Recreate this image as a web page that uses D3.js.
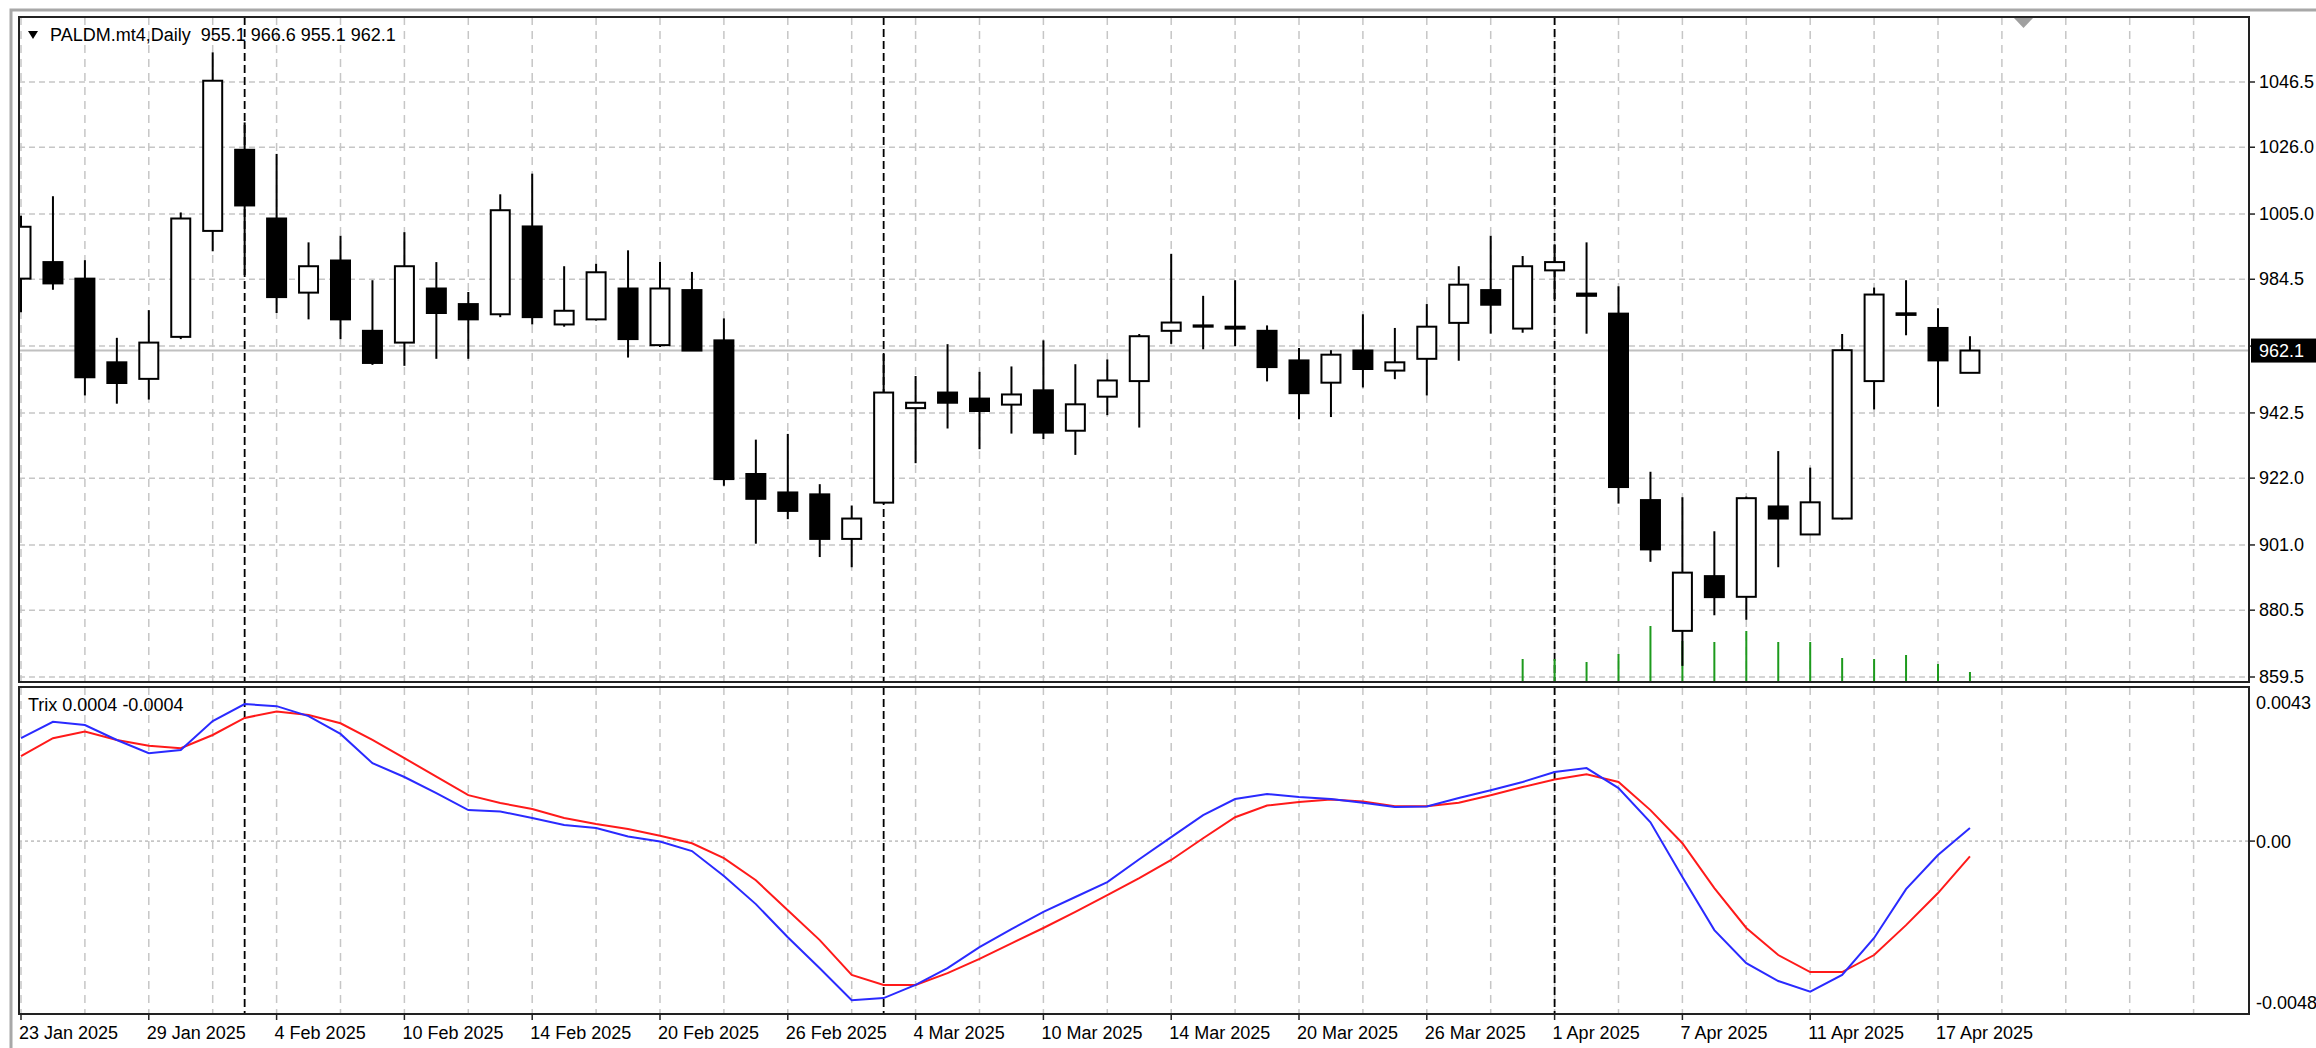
<!DOCTYPE html>
<html><head><meta charset="utf-8">
<script src="https://cdn.jsdelivr.net/npm/d3@7"></script>
<style>
html,body{margin:0;padding:0;background:#fff;overflow:hidden}
text{font-family:"Liberation Sans",Arial,sans-serif;font-size:18px;}
</style></head><body>
<svg id="c" width="2316" height="1048"></svg>
<script>
// ---------- DATA ----------
const symbol = "PALDM.mt4";
const timeframe = "Daily";
const dates = ["23 Jan 2025","24 Jan 2025","27 Jan 2025","28 Jan 2025","29 Jan 2025","30 Jan 2025","31 Jan 2025",
"3 Feb 2025","4 Feb 2025","5 Feb 2025","6 Feb 2025","7 Feb 2025","10 Feb 2025","11 Feb 2025","12 Feb 2025","13 Feb 2025","14 Feb 2025",
"17 Feb 2025","18 Feb 2025","19 Feb 2025","20 Feb 2025","21 Feb 2025","24 Feb 2025","25 Feb 2025","26 Feb 2025","27 Feb 2025","28 Feb 2025",
"3 Mar 2025","4 Mar 2025","5 Mar 2025","6 Mar 2025","7 Mar 2025","10 Mar 2025","11 Mar 2025","12 Mar 2025","13 Mar 2025","14 Mar 2025",
"17 Mar 2025","18 Mar 2025","19 Mar 2025","20 Mar 2025","21 Mar 2025","24 Mar 2025","25 Mar 2025","26 Mar 2025","27 Mar 2025","28 Mar 2025","31 Mar 2025",
"1 Apr 2025","2 Apr 2025","3 Apr 2025","4 Apr 2025","7 Apr 2025","8 Apr 2025","9 Apr 2025","10 Apr 2025","11 Apr 2025",
"14 Apr 2025","15 Apr 2025","16 Apr 2025","17 Apr 2025","18 Apr 2025"];

const open  = [984.7,989.9,984.7,958.4,953.2,966.4,999.7,1025.2,1003.6,980.3,990.4,968.3,964.6,981.6,976.7,973.5,1001.1,970.3,971.9,981.6,963.8,981.1,965.3,923.3,917.5,916.9,902.9,914.3,944.0,948.9,947.0,945.1,949.6,936.9,947.6,952.5,968.3,970.0,969.6,968.3,959.0,952.0,962.1,955.8,959.5,970.8,981.1,969.0,987.3,980.0,973.7,915.1,874.0,891.2,884.7,913.1,904.3,909.3,952.5,973.8,969.2,955.1];
const high  = [1004.5,1010.6,990.5,966.1,974.8,1005.5,1055.8,1033.8,1023.9,996.1,998.2,984.2,999.3,989.9,980.5,1011.2,1017.7,988.6,989.4,993.6,989.9,986.8,972.2,934.1,935.9,920.1,913.4,961.0,954.1,964.1,955.4,957.1,965.3,957.8,959.3,967.3,992.5,979.3,984.2,970.0,962.9,962.2,973.5,969.2,976.7,988.6,998.2,991.8,995.5,996.1,982.3,924.0,916.0,905.3,916.2,930.5,925.3,967.3,981.9,984.2,975.4,966.6];
const low   = [974.1,981.2,948.0,945.4,946.7,965.7,993.3,985.8,973.9,971.9,965.7,957.6,957.3,959.5,959.5,972.6,970.3,969.6,971.5,959.9,963.2,962.0,919.6,901.4,909.1,897.2,894.0,914.0,926.7,937.6,931.1,936.0,934.3,929.3,941.8,937.9,964.2,962.5,963.5,952.4,940.5,941.2,950.5,953.1,948.0,958.9,967.4,967.7,978.3,967.4,914.0,895.7,863.0,878.9,877.5,894.0,904.3,909.0,943.6,966.9,944.4,955.1];
const close = [1001.0,983.2,953.7,951.9,964.6,1003.6,1046.9,1007.7,978.9,988.6,971.9,958.2,988.6,973.9,971.9,1006.2,972.6,974.6,986.7,965.7,981.6,962.1,921.7,915.5,911.7,902.9,909.3,948.9,945.7,945.7,943.1,948.3,936.3,945.2,952.7,966.6,970.9,969.6,969.0,956.9,948.7,960.8,956.3,958.4,969.6,982.8,976.5,988.6,989.9,979.3,919.2,899.6,892.3,884.6,915.7,909.3,914.4,962.2,979.7,973.3,959.0,962.1];
const volume = [0,0,0,0,0,0,0,0,0,0,0,0,0,0,0,0,0,0,0,0,0,0,0,0,0,0,0,0,0,0,0,0,0,0,0,0,0,0,0,0,0,0,0,0,0,0,0,
  220,220,190,270,550,400,390,500,390,390,230,220,260,170,90];

const trix = [0.00289,0.00335,0.00326,0.00284,0.00247,0.00256,0.00337,0.00385,0.00379,0.00351,0.00301,0.00219,0.00180,0.00135,0.00087,0.00083,0.00065,0.00045,0.00037,0.00013,-0.00001,-0.00028,-0.00098,-0.00177,-0.00270,-0.00357,-0.00447,-0.00441,-0.00404,-0.00357,-0.00298,-0.00247,-0.00199,-0.00157,-0.00115,-0.00051,0.00011,0.00073,0.00118,0.00132,0.00124,0.00118,0.00108,0.00096,0.00097,0.00121,0.00143,0.00166,0.00194,0.00205,0.00149,0.00053,-0.00101,-0.00250,-0.00343,-0.00393,-0.00423,-0.00376,-0.00272,-0.00135,-0.00039,0.00037];
const trixSignal = [0.00239,0.00289,0.00308,0.00284,0.00268,0.00261,0.00298,0.00346,0.00364,0.00354,0.00331,0.00284,0.00233,0.00181,0.00129,0.00107,0.00090,0.00065,0.00048,0.00034,0.00015,-0.00006,-0.00048,-0.00110,-0.00194,-0.00278,-0.00376,-0.00404,-0.00404,-0.00371,-0.00331,-0.00287,-0.00244,-0.00199,-0.00152,-0.00104,-0.00053,0.00008,0.00067,0.00100,0.00110,0.00117,0.00111,0.00098,0.00098,0.00108,0.00129,0.00152,0.00173,0.00188,0.00166,0.00087,-0.00006,-0.00132,-0.00244,-0.00320,-0.00368,-0.00368,-0.00320,-0.00236,-0.00146,-0.00043];

const priceTicks = [1046.5,1026.0,1005.0,984.5,963.5,942.5,922.0,901.0,880.5,859.5];
const trixTicks = [0.0043,0.0,-0.0048];
const trixTickLabels = ["0.0043","0.00","-0.0048"];

// ---------- LAYOUT ----------
const L = 19, R = 2249, mTop = 17, mBot = 682, sTop = 687, sBot = 1014;
const n = dates.length;
const x  = d3.scaleLinear().domain([0, n-1]).range([21, 21 + (n-1)*31.95]);
const y  = d3.scaleLinear().domain([859.5, 1046.5]).range([677, 82]);
const yv = d3.scaleLinear().domain([0, 550]).range([681, 626]);
const yt = d3.scaleLinear().domain([-0.0048, 0.0043]).range([1012, 688]);

const svg = d3.select("#c");
const defs = svg.append("defs");
defs.append("clipPath").attr("id","clipM").append("rect").attr("x",L).attr("y",mTop).attr("width",R-L).attr("height",mBot-mTop);
defs.append("clipPath").attr("id","clipS").append("rect").attr("x",L).attr("y",sTop).attr("width",R-L).attr("height",sBot-sTop);

const gridColor = "#c6c6c6";
const gridIdx = d3.range(0, 80, 2).filter(i => x(i) < R - 2);
const monthIdx = d3.range(1, n).filter(i => dates[i].split(" ")[1] !== dates[i-1].split(" ")[1]);
const labelIdx = d3.range(0, n, 4);

// outer frame
svg.append("rect").attr("x",11).attr("y",10).attr("width",2400).attr("height",1100)
  .attr("fill","none").attr("stroke","#a8a8a8").attr("stroke-width",3);

// ---------- MAIN PANEL ----------
const gm = svg.append("g").attr("clip-path","url(#clipM)");
gm.selectAll(".hg").data(priceTicks).join("line")
  .attr("x1",L).attr("x2",R).attr("y1",d=>y(d)).attr("y2",d=>y(d))
  .attr("stroke",gridColor).attr("stroke-width",1.5).attr("stroke-dasharray","6,4");
gm.selectAll(".vg").data(gridIdx).join("line")
  .attr("x1",d=>x(d)).attr("x2",d=>x(d)).attr("y1",mTop).attr("y2",mBot)
  .attr("stroke",gridColor).attr("stroke-width",1.5).attr("stroke-dasharray","8,6");
gm.selectAll(".ms").data(monthIdx).join("line")
  .attr("x1",d=>x(d)).attr("x2",d=>x(d)).attr("y1",mTop).attr("y2",mBot)
  .attr("stroke","#000").attr("stroke-width",1.8).attr("stroke-dasharray","8,4");
// price line
const last = n-1;
gm.append("line").attr("x1",L).attr("x2",R).attr("y1",y(close[last])).attr("y2",y(close[last]))
  .attr("stroke","#c0c0c0").attr("stroke-width",2);
// volumes
gm.selectAll(".vol").data(d3.range(n).filter(i=>volume[i]>0)).join("line")
  .attr("x1",i=>x(i)).attr("x2",i=>x(i)).attr("y1",yv(0)).attr("y2",i=>yv(volume[i]))
  .attr("stroke","#1d9a1d").attr("stroke-width",2);
// candles
const cg = gm.selectAll(".cd").data(d3.range(n)).join("g");
cg.append("line").attr("x1",i=>x(i)).attr("x2",i=>x(i))
  .attr("y1",i=>y(high[i])).attr("y2",i=>y(low[i])).attr("stroke","#000").attr("stroke-width",2);
cg.append("rect").attr("x",i=>x(i)-9.5).attr("width",19)
  .attr("y",i=>y(Math.max(open[i],close[i])))
  .attr("height",i=>Math.max(1, y(Math.min(open[i],close[i])) - y(Math.max(open[i],close[i]))))
  .attr("fill",i=>close[i]>=open[i] ? "#fff" : "#000")
  .attr("stroke","#000").attr("stroke-width",2);

// title
svg.append("path").attr("d","M28,31 L38,31 L33,39 Z").attr("fill","#000");
svg.append("text").attr("x",50).attr("y",35).attr("dominant-baseline","central").attr("fill","#000")
  .attr("xml:space","preserve")
  .text(`${symbol},${timeframe}  ${open[last].toFixed(1)} ${high[last].toFixed(1)} ${low[last].toFixed(1)} ${close[last].toFixed(1)}`);
// chart shift marker
svg.append("path").attr("d","M2014,18 L2033,18 L2023.5,28 Z").attr("fill","#a0a0a0");

// border
svg.append("rect").attr("x",L).attr("y",mTop).attr("width",R-L).attr("height",mBot-mTop)
  .attr("fill","none").attr("stroke","#222").attr("stroke-width",2);

// price axis
svg.selectAll(".pt").data(priceTicks).join("line")
  .attr("x1",R).attr("x2",R+6).attr("y1",d=>y(d)).attr("y2",d=>y(d)).attr("stroke","#222").attr("stroke-width",1.5);
svg.selectAll(".pl").data(priceTicks).join("text")
  .attr("x",2259).attr("y",d=>y(d)).attr("dominant-baseline","central").attr("fill","#000")
  .text(d=>d.toFixed(1));
svg.append("rect").attr("x",2251).attr("y",y(close[last])-12).attr("width",70).attr("height",24).attr("fill","#000");
svg.append("text").attr("x",2259).attr("y",y(close[last])).attr("dominant-baseline","central").attr("fill","#fff")
  .text(close[last].toFixed(1));

// ---------- TRIX PANEL ----------
const gs = svg.append("g").attr("clip-path","url(#clipS)");
gs.selectAll(".vg2").data(gridIdx).join("line")
  .attr("x1",d=>x(d)).attr("x2",d=>x(d)).attr("y1",sTop).attr("y2",sBot)
  .attr("stroke",gridColor).attr("stroke-width",1.5).attr("stroke-dasharray","8,6");
gs.append("line").attr("x1",L).attr("x2",R).attr("y1",yt(0)).attr("y2",yt(0))
  .attr("stroke",gridColor).attr("stroke-width",1.8).attr("stroke-dasharray","3,3");
gs.selectAll(".ms2").data(monthIdx).join("line")
  .attr("x1",d=>x(d)).attr("x2",d=>x(d)).attr("y1",sTop).attr("y2",sBot)
  .attr("stroke","#000").attr("stroke-width",1.8).attr("stroke-dasharray","8,4");
const lineGen = arr => d3.line().x((d,i)=>x(i)).y(d=>yt(d))(arr);
gs.append("path").attr("d",lineGen(trixSignal)).attr("fill","none").attr("stroke","#ff1a1a").attr("stroke-width",2);
gs.append("path").attr("d",lineGen(trix)).attr("fill","none").attr("stroke","#2a2aff").attr("stroke-width",2);

svg.append("text").attr("x",28).attr("y",705).attr("dominant-baseline","central").attr("fill","#000")
  .text(`Trix ${trix[last].toFixed(4)} ${trixSignal[last].toFixed(4)}`);

svg.append("rect").attr("x",L).attr("y",sTop).attr("width",R-L).attr("height",sBot-sTop)
  .attr("fill","none").attr("stroke","#222").attr("stroke-width",2);

const trixLabelY = [yt(trixTicks[0])+15, yt(trixTicks[1])+1, yt(trixTicks[2])-9];
svg.selectAll(".tl").data(trixTicks).join("text")
  .attr("x",2256).attr("y",(d,i)=>trixLabelY[i]).attr("dominant-baseline","central").attr("fill","#000")
  .text((d,i)=>trixTickLabels[i]);
svg.append("line").attr("x1",R).attr("x2",R+6).attr("y1",yt(0)).attr("y2",yt(0)).attr("stroke","#222").attr("stroke-width",1.5);

// date axis
svg.selectAll(".dt").data(labelIdx).join("line")
  .attr("x1",i=>x(i)).attr("x2",i=>x(i)).attr("y1",sBot).attr("y2",sBot+6).attr("stroke","#222").attr("stroke-width",1.5);
svg.selectAll(".dl").data(labelIdx).join("text")
  .attr("x",i=>x(i)-2).attr("y",1033).attr("dominant-baseline","central").attr("fill","#000")
  .text(i=>dates[i]);
</script>
</body></html>
